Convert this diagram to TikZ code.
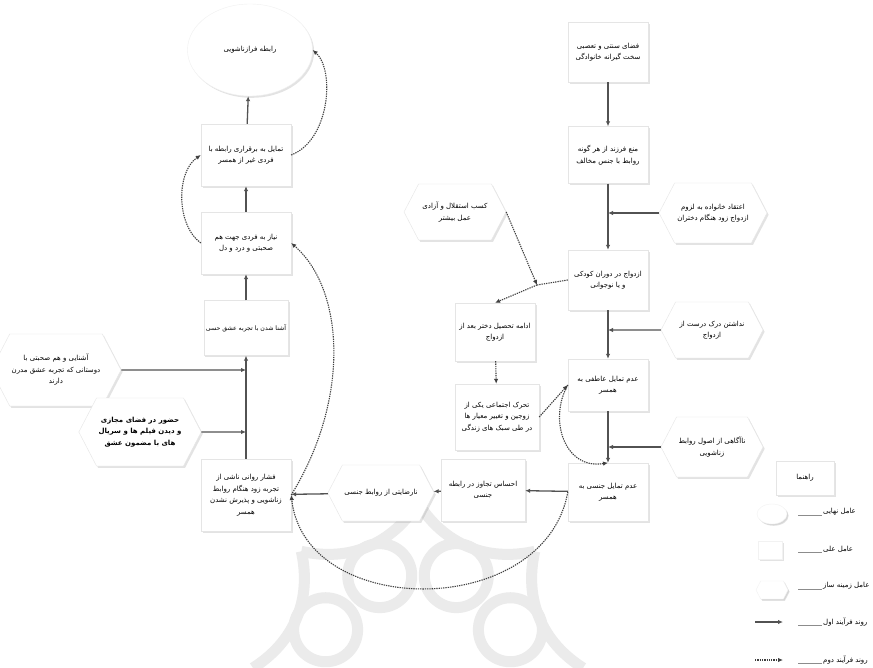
\documentclass[tikz,border=0pt]{standalone}
\usepackage{fontspec}
\newfontfamily\fa[Script=Arabic]{DejaVu Sans}
\TeXXeTstate=1
\usetikzlibrary{shapes.geometric,shapes.symbols,shadows,arrows.meta,calc}
\newcommand{\ptxt}[1]{\beginR #1\endR}
\tikzset{
  base/.style={fill=white, draw=black!10, align=center, inner sep=2pt,
    font=\fa\fontsize{7}{11.5}\selectfont,
    drop shadow={opacity=0.22, shadow xshift=1.6pt, shadow yshift=-1.8pt}},
  cbox/.style={base, rectangle, minimum width=#1},
  hexa/.style={base, signal, signal to=west and east, signal pointer angle=125, minimum width=#1},
  oval/.style={base, ellipse, draw=black!6},
  sarrow/.style={draw=black!68, line width=1.3pt, -{Latex[length=5pt,width=4.5pt]}},
  darrow/.style={draw=black!75, line width=1.1pt, dash pattern=on 1.3pt off 1pt, -{Latex[length=5pt,width=4.5pt]}},
  dline/.style={draw=black!75, line width=1.1pt, dash pattern=on 1.3pt off 1pt},
  wm/.style={draw=black!8, line width=11pt},
  lead/.style={draw=black!45, line width=0.5pt},
  lab/.style={anchor=west, inner sep=1pt, font=\fa\fontsize{7}{10}\selectfont},
  faint/.style={draw=black!5, drop shadow={opacity=0.12, shadow xshift=1.2pt, shadow yshift=-1.2pt}}
}
\begin{document}
\begin{tikzpicture}[x=1pt,y=-1pt]
\useasboundingbox (0,0) rectangle (873,668);
\fill[white] (0,0) rectangle (873,668);

% watermark rosette
\foreach \a in {22.5,67.5,...,360} {
  \draw[wm] ($(418,668)+(\a:100)$) circle (32);
}
\foreach \a/\b in {0/45,45/90,90/135,135/180,180/225,225/270,270/315,315/360} {
  \draw[wm] ($(418,668)+(\a:165)$) to[bend right=35] ($(418,668)+(\b:165)$);
}

% left column
\node[oval, minimum width=125, minimum height=92] (E) at (250,50) {\ptxt{رابطه فرازناشویی}};
\node[cbox=90, minimum height=62] (T) at (246,155) {\ptxt{تمایل به برقراری رابطه با}\\\ptxt{فردی غیر از همسر}};
\node[cbox=90, minimum height=62] (N) at (246,243) {\ptxt{نیاز به فردی جهت هم}\\\ptxt{صحبتی و درد و دل}};
\node[cbox=84, minimum height=55, font=\fa\fontsize{6.2}{10}\selectfont] (A) at (246,328) {\ptxt{آشنا شدن با تجربه عشق حسی}};
\node[cbox=90, minimum height=72] (F) at (246,495) {\ptxt{فشار روانی ناشی از}\\\ptxt{تجربه زود هنگام روابط}\\\ptxt{زناشویی و پذیرش نشدن}\\\ptxt{همسر}};
\node[hexa=118, minimum height=72] (H1) at (56,370) {\ptxt{آشنایی و هم صحبتی با}\\\ptxt{دوستانی که تجربه عشق مدرن}\\\ptxt{دارند}};
\node[hexa=112, minimum height=68, font=\fa\bfseries\fontsize{7}{11.5}\selectfont] (H2) at (140,432) {\ptxt{حضور در فضای مجازی}\\\ptxt{و دیدن فیلم ها و سریال}\\\ptxt{های با مضمون عشق}};

% bottom row
\node[hexa=92, minimum height=56] (NR) at (381,493) {\ptxt{نارضایتی از روابط جنسی}};
\node[cbox=84, minimum height=62] (TJ) at (483,490) {\ptxt{احساس تجاوز در رابطه}\\\ptxt{جنسی}};
\node[cbox=80, minimum height=58] (S) at (608,492) {\ptxt{عدم تمایل جنسی به}\\\ptxt{همسر}};

% right column
\node[cbox=80, minimum height=60] (R1) at (608,52) {\ptxt{فضای سنتی و تعصبی}\\\ptxt{سخت گیرانه خانوادگی}};
\node[cbox=80, minimum height=57] (R2) at (608,155) {\ptxt{منع فرزند از هر گونه}\\\ptxt{روابط با جنس مخالف}};
\node[cbox=80, minimum height=60] (R3) at (608,280) {\ptxt{ازدواج در دوران کودکی}\\\ptxt{و یا نوجوانی}};
\node[cbox=80, minimum height=52] (R4) at (608,385) {\ptxt{عدم تمایل عاطفی به}\\\ptxt{همسر}};
\node[hexa=108, minimum height=60] (HA) at (713,213) {\ptxt{اعتقاد خانواده به لزوم}\\\ptxt{ازدواج زود هنگام دختران}};
\node[hexa=102, minimum height=56] (HB) at (712,330) {\ptxt{نداشتن درک درست از}\\\ptxt{ازدواج}};
\node[hexa=102, minimum height=60] (HC) at (712,447) {\ptxt{ناآگاهی از اصول روابط}\\\ptxt{زناشویی}};

% middle cluster
\node[hexa=102, minimum height=56] (K) at (455,212) {\ptxt{کسب استقلال و آزادی}\\\ptxt{عمل بیشتر}};
\node[cbox=80, minimum height=58] (D) at (495,332) {\ptxt{ادامه تحصیل دختر بعد از}\\\ptxt{ازدواج}};
\node[cbox=84, minimum height=66] (M) at (497,417) {\ptxt{تحرک اجتماعی یکی از}\\\ptxt{زوجین و تغییر معیار ها}\\\ptxt{در طی سبک های زندگی}};

% legend
\node[cbox=58, minimum height=34] (LT) at (805,478) {\ptxt{راهنما}};
\node[oval, faint, minimum width=30, minimum height=20] (L1) at (772,514) {};
\node[cbox=24, faint, minimum height=18] (L2) at (770,550) {};
\node[hexa=32, faint, minimum height=18] (L3) at (772,590) {};
\node[lab] (lab1) at (822,512) {\ptxt{عامل نهایی}};
\node[lab] (lab2) at (822,549) {\ptxt{عامل علی}};
\node[lab] (lab3) at (822,586) {\ptxt{عامل زمینه ساز}};
\node[lab] (lab4) at (822,622) {\ptxt{روند فرآیند اول}};
\node[lab] (lab5) at (822,660) {\ptxt{روند فرآیند دوم}};
\foreach \i/\y in {1/515,2/552,3/589,4/625,5/663} {
  \coordinate (ld\i) at (798,\y);
  \draw[lead] (ld\i) -- (lab\i.west |- ld\i);
}
\coordinate (la1) at (755,622); \coordinate (la2) at (783,622);
\coordinate (lb1) at (755,660); \coordinate (lb2) at (783,660);
\draw[sarrow] (la1) -- (la2);
\draw[darrow] (lb1) -- (lb2);

% join points
\coordinate (jH1) at (246,370);
\coordinate (jH2) at (246,432);
\coordinate (jHA) at (608,213);
\coordinate (jHB) at (608,330);
\coordinate (jHC) at (608,447);
\coordinate (J) at (537,285);

% solid connectors
\draw[sarrow] (T) -- (E);
\draw[sarrow] (N) -- (T);
\draw[sarrow] (A) -- (N);
\draw[sarrow] (F) -- (A);
\draw[sarrow] (H1) -- (jH1);
\draw[sarrow] (H2) -- (jH2);
\draw[sarrow] (S) -- (TJ);
\draw[sarrow] (TJ) -- (NR);
\draw[sarrow] (NR) -- (F);
\draw[sarrow] (R1) -- (R2);
\draw[sarrow] (R2) -- (R3);
\draw[sarrow] (R3) -- (R4);
\draw[sarrow] (R4) -- (S);
\draw[sarrow] (HA) -- (jHA);
\draw[sarrow] (HB) -- (jHB);
\draw[sarrow] (HC) -- (jHC);

% dashed connectors
\draw[dline] (R3.west) -- (J);
\draw[darrow] (J) -- (D.north);
\draw[darrow] (K.east) -- (J);
\draw[darrow] (D) -- (M);
\draw[darrow] (M.east) -- (R4.west);
\draw[darrow] (R4.west) .. controls (548,420) and (565,470) .. (S.north);
\draw[darrow] (S.west) .. controls (545,620) and (305,620) .. (F.east);
\draw[darrow] (F.east) .. controls (350,400) and (345,290) .. (N.east);
\draw[darrow] (N.west) .. controls (176,225) and (176,172) .. (T.west);
\draw[darrow] (T.east) .. controls (330,140) and (335,70) .. (E.east);
\end{tikzpicture}
\end{document}
